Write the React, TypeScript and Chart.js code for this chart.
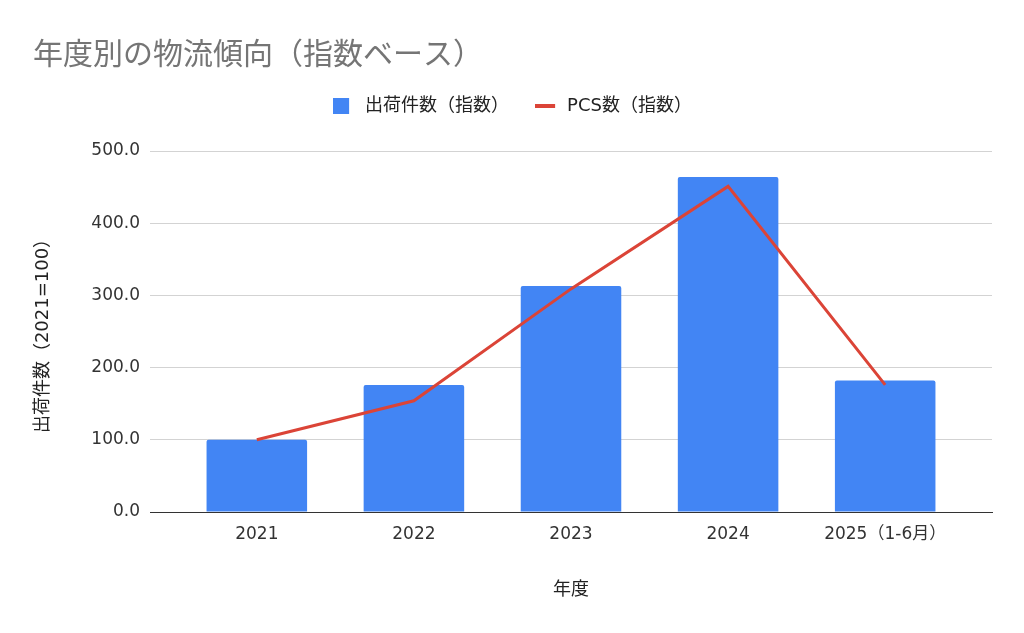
import React, { useEffect, useRef } from "react";
import { Chart, registerables } from "chart.js";

Chart.register(...registerables);

const TITLE = "年度別の物流傾向（指数ベース）";
const CATEGORIES = ["2021", "2022", "2023", "2024", "2025（1-6月）"];
const SHIPMENTS = [100, 176, 313, 464, 182];
const PCS = [100, 154, 309, 451, 176];
const SERIES_NAMES = ["出荷件数（指数）", "PCS数（指数）"];
const Y_TICKS = [0, 100, 200, 300, 400, 500];
const X_TITLE = "年度";
const Y_TITLE = "出荷件数（2021=100）";

const BLUE = "#4285F4";
const RED = "#DB4437";
const FONT = "'DejaVu Sans', 'Noto Sans CJK JP', sans-serif";
const CJK = "'Noto Sans CJK JP', sans-serif";

function makeMarker(kind: "rect" | "line") {
  const c = document.createElement("canvas");
  c.width = 23;
  c.height = 16;
  const g = c.getContext("2d")!;
  if (kind === "rect") {
    g.fillStyle = BLUE;
    g.fillRect(0, 0, 16, 16);
  } else {
    g.fillStyle = RED;
    g.fillRect(0, 6, 20, 4);
  }
  return c;
}

const legendGap = {
  id: "legendGap",
  beforeInit(chart: any) {
    const lg = chart.legend;
    if (!lg) return;
    const fit = lg.fit;
    lg.fit = function () {
      fit.call(this);
      this.height += 26;
    };
  },
};

export default function App() {
  const ref = useRef<HTMLCanvasElement | null>(null);

  useEffect(() => {
    if (!ref.current) return;
    const rectMarker = makeMarker("rect");
    const lineMarker = makeMarker("line");

    const chart = new Chart(ref.current, {
      type: "bar",
      data: {
        datasets: [
          {
            type: "line",
            label: SERIES_NAMES[1],
            data: PCS.map((v, i) => ({ x: i, y: v })),
            borderColor: RED,
            backgroundColor: RED,
            borderWidth: 3,
            pointRadius: 0,
            tension: 0,
            fill: false,
          } as any,
          {
            type: "bar",
            label: SERIES_NAMES[0],
            data: SHIPMENTS.map((v, i) => ({ x: i, y: v })),
            backgroundColor: BLUE,
            borderWidth: 0,
            borderRadius: 2,
            barPercentage: 0.64,
            categoryPercentage: 1,
          } as any,
        ],
      },
      plugins: [legendGap],
      options: {
        animation: false,
        responsive: true,
        maintainAspectRatio: false,
        layout: { padding: { left: 33, right: 32, top: 0, bottom: 0 } },
        plugins: {
          tooltip: { enabled: false },
          title: {
            display: true,
            text: TITLE,
            align: "start",
            color: "#757575",
            font: { family: CJK, size: 30, weight: "normal" },
            padding: { top: 35, bottom: 0 },
          },
          legend: {
            display: true,
            position: "top",
            align: "center",
            labels: {
              usePointStyle: true,
              pointStyleWidth: 23,
              boxHeight: 16,
              padding: 26,
              color: "#222",
              font: { family: FONT, size: 18 },
              generateLabels: () => [
                {
                  text: SERIES_NAMES[0],
                  pointStyle: rectMarker,
                  fillStyle: BLUE,
                  strokeStyle: BLUE,
                  lineWidth: 0,
                  hidden: false,
                  datasetIndex: 1,
                  fontColor: "#222",
                } as any,
                {
                  text: SERIES_NAMES[1],
                  pointStyle: lineMarker,
                  fillStyle: RED,
                  strokeStyle: RED,
                  lineWidth: 0,
                  hidden: false,
                  datasetIndex: 0,
                  fontColor: "#222",
                } as any,
              ],
            },
          },
        },
        scales: {
          x: {
            type: "linear",
            offset: false,
            min: -0.68,
            max: 4.68,
            afterBuildTicks: (axis: any) => {
              axis.ticks = CATEGORIES.map((_, i) => ({ value: i }));
            },
            ticks: {
              callback: (v: any) => CATEGORIES[Number(v)] ?? "",
              font: { family: FONT, size: 17 },
              color: "#333",
              padding: 12,
              maxRotation: 0,
              autoSkip: false,
            },
            grid: { display: false, drawTicks: false, offset: false },
            border: { display: true, color: "#333", width: 1 },
            title: {
              display: true,
              text: X_TITLE,
              color: "#222",
              font: { family: CJK, size: 18 },
              padding: { top: 20, bottom: 34 },
            },
            afterFit: (s: any) => {
              s.height = 121;
            },
          } as any,
          y: {
            min: 0,
            max: 500,
            afterBuildTicks: (axis: any) => {
              axis.ticks = Y_TICKS.map((value) => ({ value }));
            },
            ticks: {
              callback: (v: any) => Number(v).toFixed(1),
              font: { family: FONT, size: 17 },
              color: "#333",
              padding: 10,
            },
            grid: {
              color: (ctx: any) => (ctx.tick && ctx.tick.value === 0 ? "#333" : "#d3d3d3"),
              drawTicks: false,
              lineWidth: 1,
            },
            border: { display: false },
            title: {
              display: true,
              text: Y_TITLE,
              color: "#222",
              font: { family: FONT, size: 18 },
              padding: { top: 0, bottom: 0 },
            },
            afterFit: (s: any) => {
              s.width = 117;
            },
          } as any,
        },
      } as any,
    });
    return () => chart.destroy();
  }, []);

  return (
    <div style={{ position: "fixed", left: 0, top: 0, width: 1024, height: 633, background: "#fff" }}>
      <canvas ref={ref} style={{ display: "block", width: "100%", height: "100%" }} />
    </div>
  );
}
